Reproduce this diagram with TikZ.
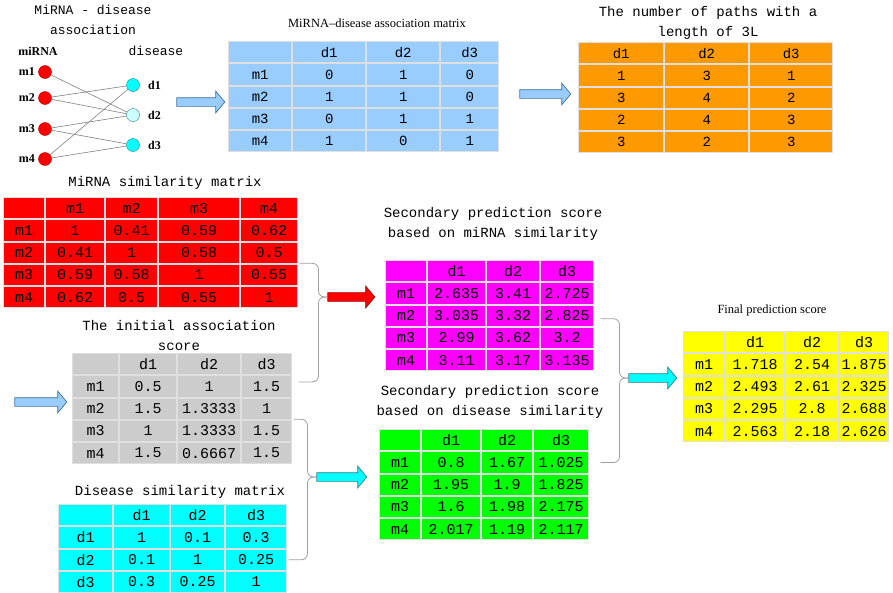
\documentclass[tikz,border=0pt]{standalone}
\usepackage{fontspec}
\setmainfont{Liberation Serif}
\newfontfamily\simfont{Liberation Mono}
\usetikzlibrary{matrix,shapes.arrows,positioning}

\definecolor{assocblue}{HTML}{99CCFF}
\definecolor{pathorange}{HTML}{FF9900}
\definecolor{simred}{HTML}{FF0000}
\definecolor{initgray}{HTML}{CCCCCC}
\definecolor{simcyan}{HTML}{00FFFF}
\definecolor{secmagenta}{HTML}{FF00FF}
\definecolor{secgreen}{HTML}{00FF00}
\definecolor{finyellow}{HTML}{FFFF00}
\definecolor{palecyan}{HTML}{CCFFFF}
\definecolor{arrowblue}{HTML}{41719C}
\definecolor{arrowteal}{HTML}{2E7D8C}
\definecolor{darkred}{HTML}{A00000}

\newcommand{\tabfont}{\simfont\fontsize{15}{15}\selectfont}
\newcommand{\smtabfont}{\simfont\fontsize{14}{14}\selectfont}
\newcommand{\titlefont}{\simfont\fontsize{14}{20}\selectfont}

\tikzset{
  w/.style 2 args={column #1/.style={nodes={minimum width=#2}}},
  tbl/.style={matrix of nodes, nodes in empty cells, anchor=north west,
    inner sep=0pt, column sep=0pt, row sep=0pt,
    nodes={draw=gray!25, line width=1pt, fill=#1, inner sep=0pt, outer sep=0pt,
      minimum height=21.2pt, anchor=center, font=\tabfont}},
  fatarrow/.style={single arrow, draw=#1, line width=0.7pt, inner xsep=0pt,
    inner ysep=4pt, minimum width=0pt, single arrow head extend=6.5pt,
    single arrow tip angle=100},
  brace/.style={draw=gray!75, line width=0.8pt, rounded corners=6pt},
  mnode/.style={circle, draw=darkred, fill=simred, minimum size=13pt, inner sep=0pt},
  dnode/.style={circle, draw=arrowteal, fill=simcyan, minimum size=13pt, inner sep=0pt},
  lab/.style={font=\bfseries\fontsize{12}{12}\selectfont},
  link/.style={draw=gray, line width=0.6pt}
}

\begin{document}
\begin{tikzpicture}[x=1pt,y=-1pt]
\useasboundingbox (0,0) rectangle (893,592);

% association graph
\node[font=\simfont\fontsize{13}{20}\selectfont, align=center] (gtitle) at (93,20) {MiRNA - disease\\association};
\node[lab] (mlab) at (38,51) {miRNA};
\node[font=\simfont\fontsize{13}{13}\selectfont] (dlab) at (156,51) {disease};

\node[mnode, label={[lab]left:m1}] (m1) at (45,72) {};
\node[mnode, label={[lab]left:m2}] (m2) at (45,98) {};
\node[mnode, label={[lab]left:m3}] (m3) at (45,129) {};
\node[mnode, label={[lab]left:m4}] (m4) at (45,159) {};
\node[dnode, label={[lab,label distance=5pt]right:d1}] (d1) at (133,85) {};
\node[dnode, fill=palecyan, label={[lab,label distance=5pt]right:d2}] (d2) at (133,115) {};
\node[dnode, label={[lab,label distance=5pt]right:d3}] (d3) at (133,145) {};

\foreach \a/\b in {m1/d2,m2/d1,m2/d2,m3/d2,m3/d3,m4/d1,m4/d3}
  \draw[link] (\a) -- (\b);

% association matrix
\node[font=\fontsize{12.5}{12.5}\selectfont] (atitle) at (377,23) {MiRNA–disease association matrix};
\matrix[tbl=assocblue, nodes={font=\smtabfont}, w={1}{63pt}, w={2}{73pt}, w={3}{73pt}, w={4}{58pt}] (assoc) at (228,41) {
     & d1 & d2 & d3 \\
  m1 & 0  & 1  & 0  \\
  m2 & 1  & 1  & 0  \\
  m3 & 0  & 1  & 1  \\
  m4 & 1  & 0  & 1  \\
};
\node[fatarrow=arrowblue, fill=assocblue, minimum height=48pt] (arrA) at (199,102) {};

% paths of length 3
\node[font=\titlefont, align=center] (ptitle) at (708,23) {The number of paths with a\\length of 3L};
\matrix[tbl=pathorange, nodes={font=\smtabfont}, w={1}{85pt}, w={2}{84pt}, w={3}{83pt}] (paths) at (578,42) {
  d1 & d2 & d3 \\
  1  & 3  & 1  \\
  3  & 4  & 2  \\
  2  & 4  & 3  \\
  3  & 2  & 3  \\
};
\node[fatarrow=arrowblue, fill=assocblue, minimum height=51pt] (arrB) at (543.5,94) {};

% miRNA similarity
\node[font=\titlefont] (rtitle) at (165,183) {MiRNA similarity matrix};
\matrix[tbl=simred, w={1}{41pt}, w={2}{59pt}, w={3}{52pt}, w={4}{81pt}, w={5}{57pt}] (msim) at (3,197) {
     & m1   & m2   & m3   & m4   \\
  m1 & 1    & 0.41 & 0.59 & 0.62 \\
  m2 & 0.41 & 1    & 0.58 & 0.5  \\
  m3 & 0.59 & 0.58 & 1    & 0.55 \\
  m4 & 0.62 & 0.5  & 0.55 & 1    \\
};

% initial score
\node[font=\titlefont, align=center] (ititle) at (179,335) {The initial association\\score};
\matrix[tbl=initgray, w={1}{46pt}, w={2}{57pt}, w={3}{63pt}, w={4}{50pt}] (init) at (72,353) {
     & d1  & d2     & d3  \\
  m1 & 0.5 & 1      & 1.5 \\
  m2 & 1.5 & 1.3333 & 1   \\
  m3 & 1   & 1.3333 & 1.5 \\
  m4 & 1.5 & 0.6667 & 1.5 \\
};
\node[fatarrow=arrowblue, fill=assocblue, minimum height=52pt] (arrC) at (39,402) {};

% disease similarity
\node[font=\titlefont] (stitle) at (180,492) {Disease similarity matrix};
\matrix[tbl=simcyan, w={1}{54pt}, w={2}{56pt}, w={3}{54pt}, w={4}{61pt}] (dsim) at (58,504) {
     & d1  & d2   & d3   \\
  d1 & 1   & 0.1  & 0.3  \\
  d2 & 0.1 & 1    & 0.25 \\
  d3 & 0.3 & 0.25 & 1    \\
};

% secondary score, miRNA side
\node[font=\titlefont, align=center] (mtitle) at (493,224) {Secondary prediction score\\based on miRNA similarity};
\matrix[tbl=secmagenta, w={1}{41pt}, w={2}{58pt}, w={3}{53pt}, w={4}{53pt}] (msec) at (385,260) {
     & d1    & d2   & d3    \\
  m1 & 2.635 & 3.41 & 2.725 \\
  m2 & 3.035 & 3.32 & 2.825 \\
  m3 & 2.99  & 3.62 & 3.2   \\
  m4 & 3.11  & 3.17 & 3.135 \\
};
\node[fatarrow=darkred, fill=simred, minimum height=47pt] (arrD) at (349.5,297) {};

% secondary score, disease side
\node[font=\titlefont, align=center] (gtitle2) at (490,402) {Secondary prediction score\\based on disease similarity};
\matrix[tbl=secgreen, w={1}{41pt}, w={2}{59pt}, w={3}{51pt}, w={4}{55pt}] (dsec) at (379,429) {
     & d1    & d2   & d3    \\
  m1 & 0.8   & 1.67 & 1.025 \\
  m2 & 1.95  & 1.9  & 1.825 \\
  m3 & 1.6   & 1.98 & 2.175 \\
  m4 & 2.017 & 1.19 & 2.117 \\
};
\node[fatarrow=arrowteal, fill=simcyan, minimum height=50pt] (arrE) at (340,477) {};

% final score
\node[font=\fontsize{12.5}{12.5}\selectfont] (ftitle) at (772,310) {Final prediction score};
\matrix[tbl=finyellow, w={1}{41pt}, w={2}{59pt}, w={3}{53pt}, w={4}{49pt}] (final) at (683,331) {
     & d1    & d2   & d3    \\
  m1 & 1.718 & 2.54 & 1.875 \\
  m2 & 2.493 & 2.61 & 2.325 \\
  m3 & 2.295 & 2.8  & 2.688 \\
  m4 & 2.563 & 2.18 & 2.626 \\
};
\node[fatarrow=arrowteal, fill=simcyan, minimum height=48pt] (arrF) at (651,378) {};

% braces
\draw[brace] ([xshift=2pt]msim-3-5.south east) -| ([xshift=-9pt]arrD.tail) -- (arrD.tail);
\draw[brace] ([shift={(7pt,-6pt)}]init-2-4.north east) -| ([xshift=-9pt]arrD.tail) -- (arrD.tail);
\draw[brace] ([xshift=2pt]init-3-4.south east) -| ([xshift=-9pt]arrE.tail) -- (arrE.tail);
\draw[brace] ([xshift=2pt]dsim-3-4.east) -| ([xshift=-9pt]arrE.tail) -- (arrE.tail);
\draw[brace] ([shift={(7pt,-3pt)}]msec-3-4.east) -| ([xshift=-9pt]arrF.tail) -- (arrF.tail);
\draw[brace] ([xshift=12pt]dsec-2-4.east) -| ([xshift=-9pt]arrF.tail) -- (arrF.tail);
\end{tikzpicture}
\end{document}
